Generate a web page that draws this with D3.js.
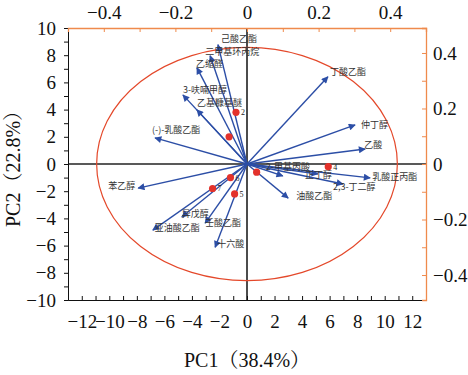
<!DOCTYPE html>
<html><head><meta charset="utf-8">
<script src="https://cdn.jsdelivr.net/npm/d3@7/dist/d3.min.js"></script>
<style>
html,body{margin:0;padding:0;background:#fff;}
svg{display:block;}
</style></head>
<body>
<svg id="c" width="468" height="375"></svg>
<script>
// ---- data ----
const varNames = ["己酸乙酯","二甲基环丙烷","乙缩醛","3-呋喃甲醇","乙基糠基醚","(-)-乳酸乙酯","苯乙醇","亚油酸乙酯","异戊醇","壬酸乙酯","十六酸","油酸乙酯","丁酸乙酯","仲丁醇","乙酸","乳酸正丙酯","2,3-丁二醇","2-甲基丙酸","正丁醇"];
const loadPC1 = [-0.081,-0.103,-0.140,-0.179,-0.140,-0.257,-0.304,-0.263,-0.182,-0.117,-0.089,0.115,0.226,0.302,0.330,0.344,0.268,0.100,0.198];
const loadPC2 = [0.430,0.390,0.347,0.249,0.195,0.094,-0.087,-0.238,-0.191,-0.213,-0.300,-0.123,0.314,0.141,0.054,-0.050,-0.072,-0.043,-0.036];
const sampleNames = ["1","2","3","4","5","6","7"];
const scorePC1 = [0.7,-0.8,-1.3,5.9,-0.9,-1.2,-2.5];
const scorePC2 = [-0.6,3.8,2.0,-0.2,-2.2,-1.0,-1.8];
const bottomTicks = [-12,-10,-8,-6,-4,-2,0,2,4,6,8,10,12];
const leftTicks = [10,8,6,4,2,0,-2,-4,-6,-8,-10];
const topTicks = [-0.4,-0.2,0,0.2,0.4];
const rightTicks = [0.4,0.2,0,-0.2,-0.4];
const circleR = 0.42;
// label placement (layout only): offset from arrow tip in px
const labelOff = [[3,-3],[-5,-1],[-1,-1],[0,-2],[0,-4],[-3,-5],[-30,1],[2,1],[0,0],[0,3],[2,0],[8,1],[2,-2],[6,3],[-1,-1],[2,2],[-10,6],[-17,-6],[-13,4]];
const pointLabelShown = [false,true,false,true,true,true,true];

// ---- layout ----
const L=68,R=426,T=28,B=300;
const x=d3.scaleLinear().domain([-13,13]).range([L,R]);
const y=d3.scaleLinear().domain([-10,10]).range([B,T]);
const x2=d3.scaleLinear().domain([-0.5,0.5]).range([L,R]);
const y2=d3.scaleLinear().domain([-0.49,0.49]).range([B,T]);
const svg=d3.select("#c");
const orange="#ef8a4c", blue="#2c4ea6", red="#e3322b";
const serif="'Liberation Serif','Times New Roman','Noto Serif CJK SC','Noto Sans CJK SC',serif";
const cjk="'Noto Sans CJK SC',sans-serif";

// arrow marker
svg.append("defs").append("marker").attr("id","ah").attr("viewBox","0 0 10 10")
  .attr("refX",9).attr("refY",5).attr("markerWidth",10).attr("markerHeight",7)
  .attr("markerUnits","userSpaceOnUse").attr("orient","auto")
  .append("path").attr("d","M0,0 L10,5 L0,10 Z").attr("fill",blue);

// zero lines
svg.append("line").attr("x1",L).attr("x2",R).attr("y1",y(0)).attr("y2",y(0)).attr("stroke","#222").attr("stroke-width",1.5);
svg.append("line").attr("x1",x(0)).attr("x2",x(0)).attr("y1",T).attr("y2",B).attr("stroke","#111").attr("stroke-width",1.5);

// ellipse (correlation circle in loading units)
svg.append("ellipse").attr("cx",x2(0)).attr("cy",y2(0))
  .attr("rx",x2(circleR)-x2(0)).attr("ry",y2(0)-y2(circleR))
  .attr("fill","none").attr("stroke","#e4482a").attr("stroke-width",1.2);

// axes
const minorX=d3.range(-13,14,1), minorY=d3.range(-10,11,1);
const gB=svg.append("g").attr("transform",`translate(0,${B})`)
  .call(d3.axisBottom(x).tickValues(minorX).tickSize(-4).tickFormat(""));
gB.select(".domain").attr("stroke","#111");
gB.selectAll(".tick line").attr("stroke","#111");
svg.append("g").attr("transform",`translate(0,${B})`)
  .call(d3.axisBottom(x).tickValues(bottomTicks).tickSize(0).tickPadding(15).tickFormat(d3.format("d")))
  .call(g=>{g.select(".domain").remove();g.selectAll("text").attr("font-family",serif).attr("font-size",19).attr("fill","#111");});

const gL=svg.append("g").attr("transform",`translate(${L},0)`)
  .call(d3.axisLeft(y).tickValues(minorY).tickSize(4).tickFormat(""));
gL.select(".domain").attr("stroke","#111");
gL.selectAll(".tick line").attr("stroke","#111");
svg.append("g").attr("transform",`translate(${L},0)`)
  .call(d3.axisLeft(y).tickValues(leftTicks).tickSize(0).tickPadding(12).tickFormat(d3.format("d")))
  .call(g=>{g.select(".domain").remove();g.selectAll("text").attr("font-family",serif).attr("font-size",19).attr("fill","#111");});

const gT=svg.append("g").attr("transform",`translate(0,${T})`)
  .call(d3.axisTop(x2).tickValues(d3.range(-5,6).map(d=>d/10)).tickSize(-4).tickFormat(""));
gT.select(".domain").attr("stroke",orange).attr("stroke-width",1.3);
gT.selectAll(".tick line").attr("stroke",orange);
svg.append("g").attr("transform",`translate(0,${T})`)
  .call(d3.axisTop(x2).tickValues(topTicks).tickSize(0).tickPadding(9).tickFormat(d=>d===0?"0":d3.format(".1f")(d)))
  .call(g=>{g.select(".domain").remove();g.selectAll("text").attr("font-family",serif).attr("font-size",19).attr("fill","#111");});

const gR=svg.append("g").attr("transform",`translate(${R},0)`)
  .call(d3.axisRight(y2).tickValues(d3.range(-4,5).map(d=>d/10)).tickSize(-4).tickFormat(""));
gR.select(".domain").attr("stroke",orange).attr("stroke-width",1.3);
gR.selectAll(".tick line").attr("stroke",orange);
svg.append("g").attr("transform",`translate(${R},0)`)
  .call(d3.axisRight(y2).tickValues(rightTicks).tickSize(0).tickPadding(7).tickFormat(d=>d===0?"0":d3.format(".1f")(d)))
  .call(g=>{g.select(".domain").remove();g.selectAll("text").attr("font-family",serif).attr("font-size",19).attr("fill","#111");});

// axis titles
svg.append("text").attr("x",(L+R)/2).attr("y",367).attr("text-anchor","middle")
  .attr("font-family",serif).attr("font-size",20).attr("fill","#111").text("PC1（38.4%）");
svg.append("text").attr("transform",`translate(20,${(T+B)/2}) rotate(-90)`).attr("text-anchor","middle")
  .attr("font-family",serif).attr("font-size",20).attr("fill","#111").text("PC2（22.8%）");

// loading arrows
const ld=varNames.map((n,i)=>({n,px:loadPC1[i],py:loadPC2[i],o:labelOff[i]}));
svg.append("g").selectAll("line").data(ld).join("line")
  .attr("x1",x2(0)).attr("y1",y2(0)).attr("x2",d=>x2(d.px)).attr("y2",d=>y2(d.py))
  .attr("stroke",blue).attr("stroke-width",1.4).attr("marker-end","url(#ah)");
svg.append("g").selectAll("text").data(ld).join("text")
  .attr("x",d=>x2(d.px)+d.o[0]).attr("y",d=>y2(d.py)+d.o[1])
  .attr("font-family",cjk).attr("font-size",9).attr("fill","#333").text(d=>d.n);

// score points
const sd=sampleNames.map((n,i)=>({n,sx:scorePC1[i],sy:scorePC2[i],show:pointLabelShown[i]}));
svg.append("g").selectAll("circle").data(sd).join("circle")
  .attr("cx",d=>x(d.sx)).attr("cy",d=>y(d.sy)).attr("r",3.6).attr("fill",red);
svg.append("g").selectAll("text").data(sd.filter(d=>d.show)).join("text")
  .attr("x",d=>x(d.sx)+5).attr("y",d=>y(d.sy)+3)
  .attr("font-family",serif).attr("font-size",8).attr("fill","#222").text(d=>d.n);
</script>
</body></html>
